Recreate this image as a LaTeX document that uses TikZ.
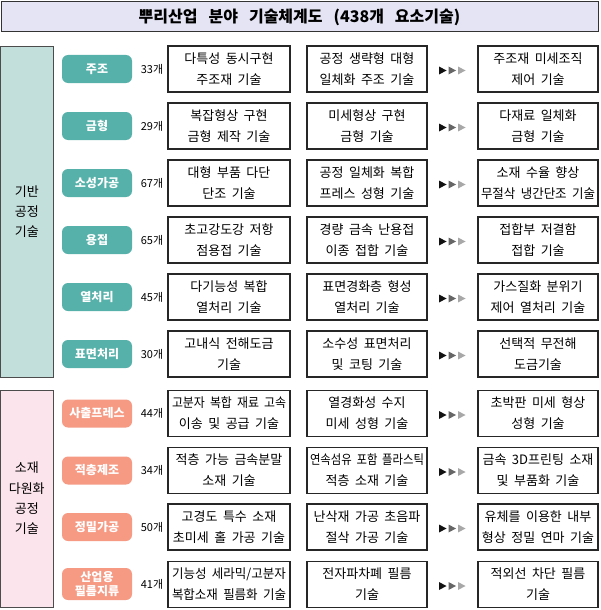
\documentclass[tikz,border=0pt]{standalone}
\usepackage{fontspec}
\setmainfont{Noto Sans CJK KR}
\usetikzlibrary{calc,shadows}
\definecolor{tealpill}{HTML}{55B1A9}
\definecolor{tealbg}{HTML}{C3DFDC}
\definecolor{salpill}{HTML}{F69A84}
\definecolor{pinkbg}{HTML}{FCE4EC}
\definecolor{titlebg}{HTML}{E4E4F4}
\definecolor{arrA}{HTML}{111111}
\definecolor{arrB}{HTML}{666666}
\definecolor{arrC}{HTML}{A8A8A8}
\newcommand\wideTitle{\spaceskip=11pt\relax}
\newcommand\wideBox{\spaceskip=5.5pt\relax}
\newsavebox\fitbx
\newcommand\fitl[1]{\sbox\fitbx{#1}\ifdim\wd\fitbx>114pt\resizebox{114pt}{\ht\fitbx}{\usebox\fitbx}\else\usebox\fitbx\fi}
\newcommand\twol[2]{\fitl{#1}\\\fitl{#2}}
\newcommand\arrs[1]{%
  \fill[arrA] ($(#1)+(-13.5,-4)$) -- ++(7.5,4) -- ++(-7.5,4) -- cycle;
  \fill[arrB] ($(#1)+(-4,-4)$) -- ++(7.5,4) -- ++(-7.5,4) -- cycle;
  \fill[arrC] ($(#1)+(5.5,-4)$) -- ++(7.5,4) -- ++(-7.5,4) -- cycle;}
\begin{document}
\begin{tikzpicture}[x=1pt,y=-1pt,
  tbox/.style={draw=black!85, fill=white, line width=1.1pt, minimum height=46pt, minimum width=120pt,
    inner sep=0pt, align=center, font={\fontsize{13}{21}\selectfont\wideBox},
    drop shadow={shadow xshift=0.9pt, shadow yshift=-0.9pt, fill=black!55, opacity=1}},
  wbox/.style={tbox, minimum width=122pt},
  pillA/.style={fill=tealpill, rounded corners=6pt, minimum width=70pt, minimum height=28pt,
    inner sep=0pt, text=white, align=center, font={\bfseries\fontsize{12}{14}\selectfont}},
  pillB/.style={pillA, fill=salpill},
  cnt/.style={inner sep=0pt, font={\fontsize{11}{13}\selectfont}},
  grp/.style={draw=black!70, line width=0.8pt, inner sep=0pt, minimum width=52.5pt,
    align=center, font={\fontsize{13}{20.3}\selectfont}},
]
\useasboundingbox (0,0) rectangle (600,610);
% title
\node[draw=black!80, line width=1pt, fill=titlebg, minimum width=597pt, minimum height=30pt,
  inner sep=0pt, font={\bfseries\fontsize{16}{18}\selectfont\wideTitle}] (title) at (299.5,17)
  {뿌리산업 분야 기술체계도 (438개 요소기술)};
% groups
\node[grp, fill=tealbg, minimum height=331pt] (g1) at (26.75,211.5) {기반\\공정\\기술};
\node[grp, fill=pinkbg, minimum height=217pt] (g2) at (26.75,498.5) {소재\\다원화\\공정\\기술};

% ---- group 1 rows
\node[pillA] (p1) at (97,69) {주조};
\node[cnt] (c1) at (152,69) {33개};
\node[wbox] (a1) at (229,69) {\twol{다특성 동시구현}{주조재 기술}};
\node[tbox] (b1) at (367,69) {\twol{공정 생략형 대형}{일체화 주조 기술}};
\node[tbox] (d1) at (538,69) {\twol{주조재 미세조직}{제어 기술}};

\node[pillA] (p2) at (97,126) {금형};
\node[cnt] (c2) at (152,126) {29개};
\node[wbox] (a2) at (229,126) {\twol{복잡형상 구현}{금형 제작 기술}};
\node[tbox] (b2) at (367,126) {\twol{미세형상 구현}{금형 기술}};
\node[tbox] (d2) at (538,126) {\twol{다재료 일체화}{금형 기술}};

\node[pillA] (p3) at (97,183) {소성가공};
\node[cnt] (c3) at (152,183) {67개};
\node[wbox] (a3) at (229,183) {\twol{대형 부품 다단}{단조 기술}};
\node[tbox] (b3) at (367,183) {\twol{공정 일체화 복합}{프레스 성형 기술}};
\node[tbox] (d3) at (538,183) {\twol{소재 수율 향상}{무절삭 냉간단조 기술}};

\node[pillA] (p4) at (97,240) {용접};
\node[cnt] (c4) at (152,240) {65개};
\node[wbox] (a4) at (229,240) {\twol{초고강도강 저항}{점용접 기술}};
\node[tbox] (b4) at (367,240) {\twol{경량 금속 난용접}{이종 접합 기술}};
\node[tbox] (d4) at (538,240) {\twol{접합부 저결함}{접합 기술}};

\node[pillA] (p5) at (97,297) {열처리};
\node[cnt] (c5) at (152,297) {45개};
\node[wbox] (a5) at (229,297) {\twol{다기능성 복합}{열처리 기술}};
\node[tbox] (b5) at (367,297) {\twol{표면경화층 형성}{열처리 기술}};
\node[tbox] (d5) at (538,297) {\twol{가스질화 분위기}{제어 열처리 기술}};

\node[pillA] (p6) at (97,354) {표면처리};
\node[cnt] (c6) at (152,354) {30개};
\node[wbox] (a6) at (229,354) {\twol{고내식 전해도금}{기술}};
\node[tbox] (b6) at (367,354) {\twol{소수성 표면처리}{및 코팅 기술}};
\node[tbox] (d6) at (538,354) {\twol{선택적 무전해}{도금기술}};

% ---- group 2 rows
\node[pillB] (p7) at (97,413.5) {사출프레스};
\node[cnt] (c7) at (152,413.5) {44개};
\node[wbox] (a7) at (229,413.5) {\twol{고분자 복합 재료 고속}{이송 및 공급 기술}};
\node[tbox] (b7) at (367,413.5) {\twol{열경화성 수지}{미세 성형 기술}};
\node[tbox] (d7) at (538,413.5) {\twol{초박판 미세 형상}{성형 기술}};

\node[pillB] (p8) at (97,470.5) {적층제조};
\node[cnt] (c8) at (152,470.5) {34개};
\node[wbox] (a8) at (229,470.5) {\twol{적층 가능 금속분말}{소재 기술}};
\node[tbox] (b8) at (367,470.5) {\twol{연속섬유 포함 플라스틱}{적층 소재 기술}};
\node[tbox] (d8) at (538,470.5) {\twol{금속 3D프린팅 소재}{및 부품화 기술}};

\node[pillB] (p9) at (97,527) {정밀가공};
\node[cnt] (c9) at (152,527) {50개};
\node[wbox] (a9) at (229,527) {\twol{고경도 특수 소재}{초미세 홀 가공 기술}};
\node[tbox] (b9) at (367,527) {\twol{난삭재 가공 초음파}{절삭 가공 기술}};
\node[tbox] (d9) at (538,527) {\twol{유체를 이용한 내부}{형상 정밀 연마 기술}};

\node[pillB, minimum height=32pt, font={\bfseries\fontsize{12}{13.5}\selectfont}] (p10) at (97,584) {산업용\\필름지류};
\node[cnt] (c10) at (152,584) {41개};
\node[wbox] (a10) at (229,584.5) {\twol{기능성 세라믹/고분자}{복합소재 필름화 기술}};
\node[tbox] (b10) at (367,584.5) {\twol{전자파차폐 필름}{기술}};
\node[tbox] (d10) at (538,584.5) {\twol{적외선 차단 필름}{기술}};

% arrows between second and third boxes
\foreach \i in {1,...,10}{
  \coordinate (m\i) at ($(b\i.east)!0.5!(d\i.west)+(0,1.5)$);
}
\arrs{m1}\arrs{m2}\arrs{m3}\arrs{m4}\arrs{m5}
\arrs{m6}\arrs{m7}\arrs{m8}\arrs{m9}\arrs{m10}
\end{tikzpicture}
\end{document}
